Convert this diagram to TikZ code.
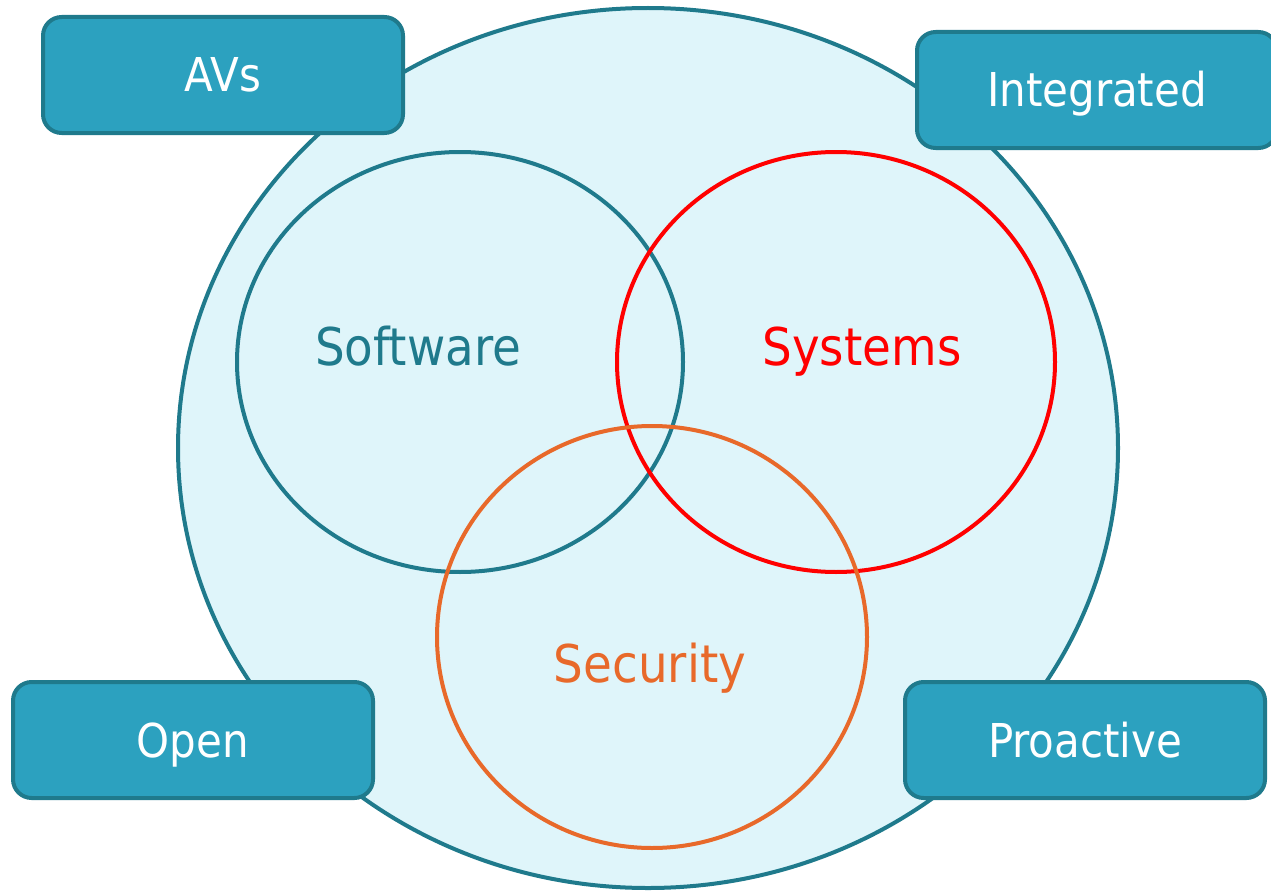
\documentclass[tikz,border=0pt]{standalone}
\usepackage{fontspec}
\setmainfont{DejaVu Sans Condensed}
\definecolor{tealline}{RGB}{31,122,140}
\definecolor{tealbox}{RGB}{44,161,191}
\definecolor{paleblue}{RGB}{223,245,250}
\definecolor{secorange}{RGB}{232,105,42}

\begin{document}
\begin{tikzpicture}[x=0.75pt,y=0.75pt,yscale=-1,xscale=1]
\tikzset{
  tagbox/.style={draw=tealline,fill=tealbox,line width=3pt,rounded corners=14pt,
    minimum width=270pt,minimum height=87pt,text=white,font=\fontsize{35}{40}\selectfont,
    text height=25.5pt,text depth=0pt},
  setlabel/.style={font=\fontsize{39}{46}\selectfont,text height=28.4pt,text depth=0pt}
}
\useasboundingbox (0,0) rectangle (1271,892);
% outer set
\draw [tealline, fill=paleblue, line width=3pt] (648,448) ellipse (470 and 440);
% three circles
\draw [tealline, line width=3pt] (460,362) ellipse (223 and 210);
\draw [red, line width=3pt] (836,362) ellipse (219 and 210);
\draw [secorange, line width=3pt] (652,637) ellipse (215 and 211);
% Text Node
\node (soft) [setlabel, text=tealline] at (418,347) {Software};
% Text Node
\node (sys) [setlabel, text=red] at (862,347) {Systems};
% Text Node
\node (sec) [setlabel, text=secorange] at (650,664) {Security};
% corner boxes
\node (avs) [tagbox] at (223,75) {AVs};
\node (integ) [tagbox] at (1097,90) {Integrated};
\node (open) [tagbox] at (193,740) {Open};
\node (proact) [tagbox] at (1085,740) {Proactive};
\end{tikzpicture}
\end{document}
